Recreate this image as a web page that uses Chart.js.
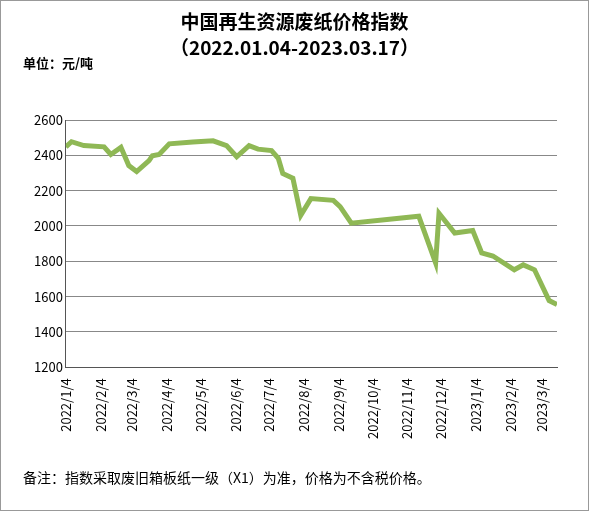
<!DOCTYPE html>
<html>
<head>
<meta charset="utf-8">
<script src="https://cdn.jsdelivr.net/npm/chart.js@4"></script>
<style>
  body { margin: 0; background: #fff; }
  #wrap { position: relative; width: 587px; height: 509px; border: 1px solid #999; font-family: "Noto Sans CJK SC", sans-serif; }
  canvas { position: absolute; left: 0; top: 0; }
  .t { position: absolute; left: 0; width: 100%; text-align: center; font-weight: bold; font-size: 19px; color: #000; }
  #unit { position: absolute; left: 22px; top: 52px; font-size: 13px; font-weight: bold; }
  #note { position: absolute; left: 22px; top: 466px; font-size: 14px; }
</style>
</head>
<body>
<div id="wrap">
  <canvas id="myChart" width="587" height="509"></canvas>
  <div class="t" style="top:6px">中国再生资源废纸价格指数</div>
  <div class="t" style="top:32px">（2022.01.04-2023.03.17）</div>
  <div id="unit">单位：元/吨</div>
  <div id="note">备注：指数采取废旧箱板纸一级（X1）为准，价格为不含税价格。</div>
</div>
<script>
// days since 2022-01-04 and index values
const days = [0, 5, 16, 34, 40, 49, 56, 63, 74, 77, 83, 92, 113, 131, 143, 152, 163, 171, 183, 189,
  193, 202, 209, 218, 238, 244, 254, 314, 329, 332, 346, 362, 370, 380, 399, 407, 417, 430, 437]
const values = [2448, 2477, 2455, 2448, 2405, 2445, 2342, 2308, 2370, 2398, 2405, 2465, 2476, 2482, 2455, 2392, 2455, 2435, 2427, 2383,
  2297, 2270, 2061, 2155, 2145, 2110, 2016, 2055, 1791, 2072, 1960, 1975, 1847, 1830, 1752, 1780, 1752, 1578, 1556]
const tickLabels = ['2022/1/4', '2022/2/4', '2022/3/4', '2022/4/4', '2022/5/4', '2022/6/4', '2022/7/4', '2022/8/4',
  '2022/9/4', '2022/10/4', '2022/11/4', '2022/12/4', '2023/1/4', '2023/2/4', '2023/3/4']

const start = Date.UTC(2022, 0, 4)
const tickDays = tickLabels.map(s => {
  const p = s.split('/').map(Number)
  return Math.round((Date.UTC(p[0], p[1] - 1, p[2]) - start) / 86400000)
})

new Chart(document.getElementById('myChart'), {
  type: 'line',
  data: {
    datasets: [{
      data: days.map((d, i) => ({x: d, y: values[i]})),
      borderColor: '#8fb855',
      borderWidth: 5,
      pointRadius: 0,
      tension: 0
    }]
  },
  options: {
    responsive: false,
    animation: false,
    layout: {padding: {left: 30, right: 31, top: 119, bottom: 68}},
    plugins: {legend: {display: false}, tooltip: {enabled: false}},
    scales: {
      x: {
        type: 'linear', min: 0, max: 437,
        afterBuildTicks: axis => { axis.ticks = tickDays.map(v => ({value: v})) },
        ticks: {
          autoSkip: false, maxRotation: 90, minRotation: 90,
          color: '#000', font: {size: 13, family: 'Noto Sans CJK SC'},
          callback: v => tickLabels[tickDays.indexOf(v)]
        },
        grid: {display: false},
        border: {color: '#555'}
      },
      y: {
        min: 1200, max: 2600,
        ticks: {stepSize: 200, color: '#000', font: {size: 13, family: 'Noto Sans CJK SC'}, callback: v => String(v)},
        grid: {color: '#888', drawTicks: false},
        border: {color: '#555'}
      }
    }
  }
})
</script>
</body>
</html>
